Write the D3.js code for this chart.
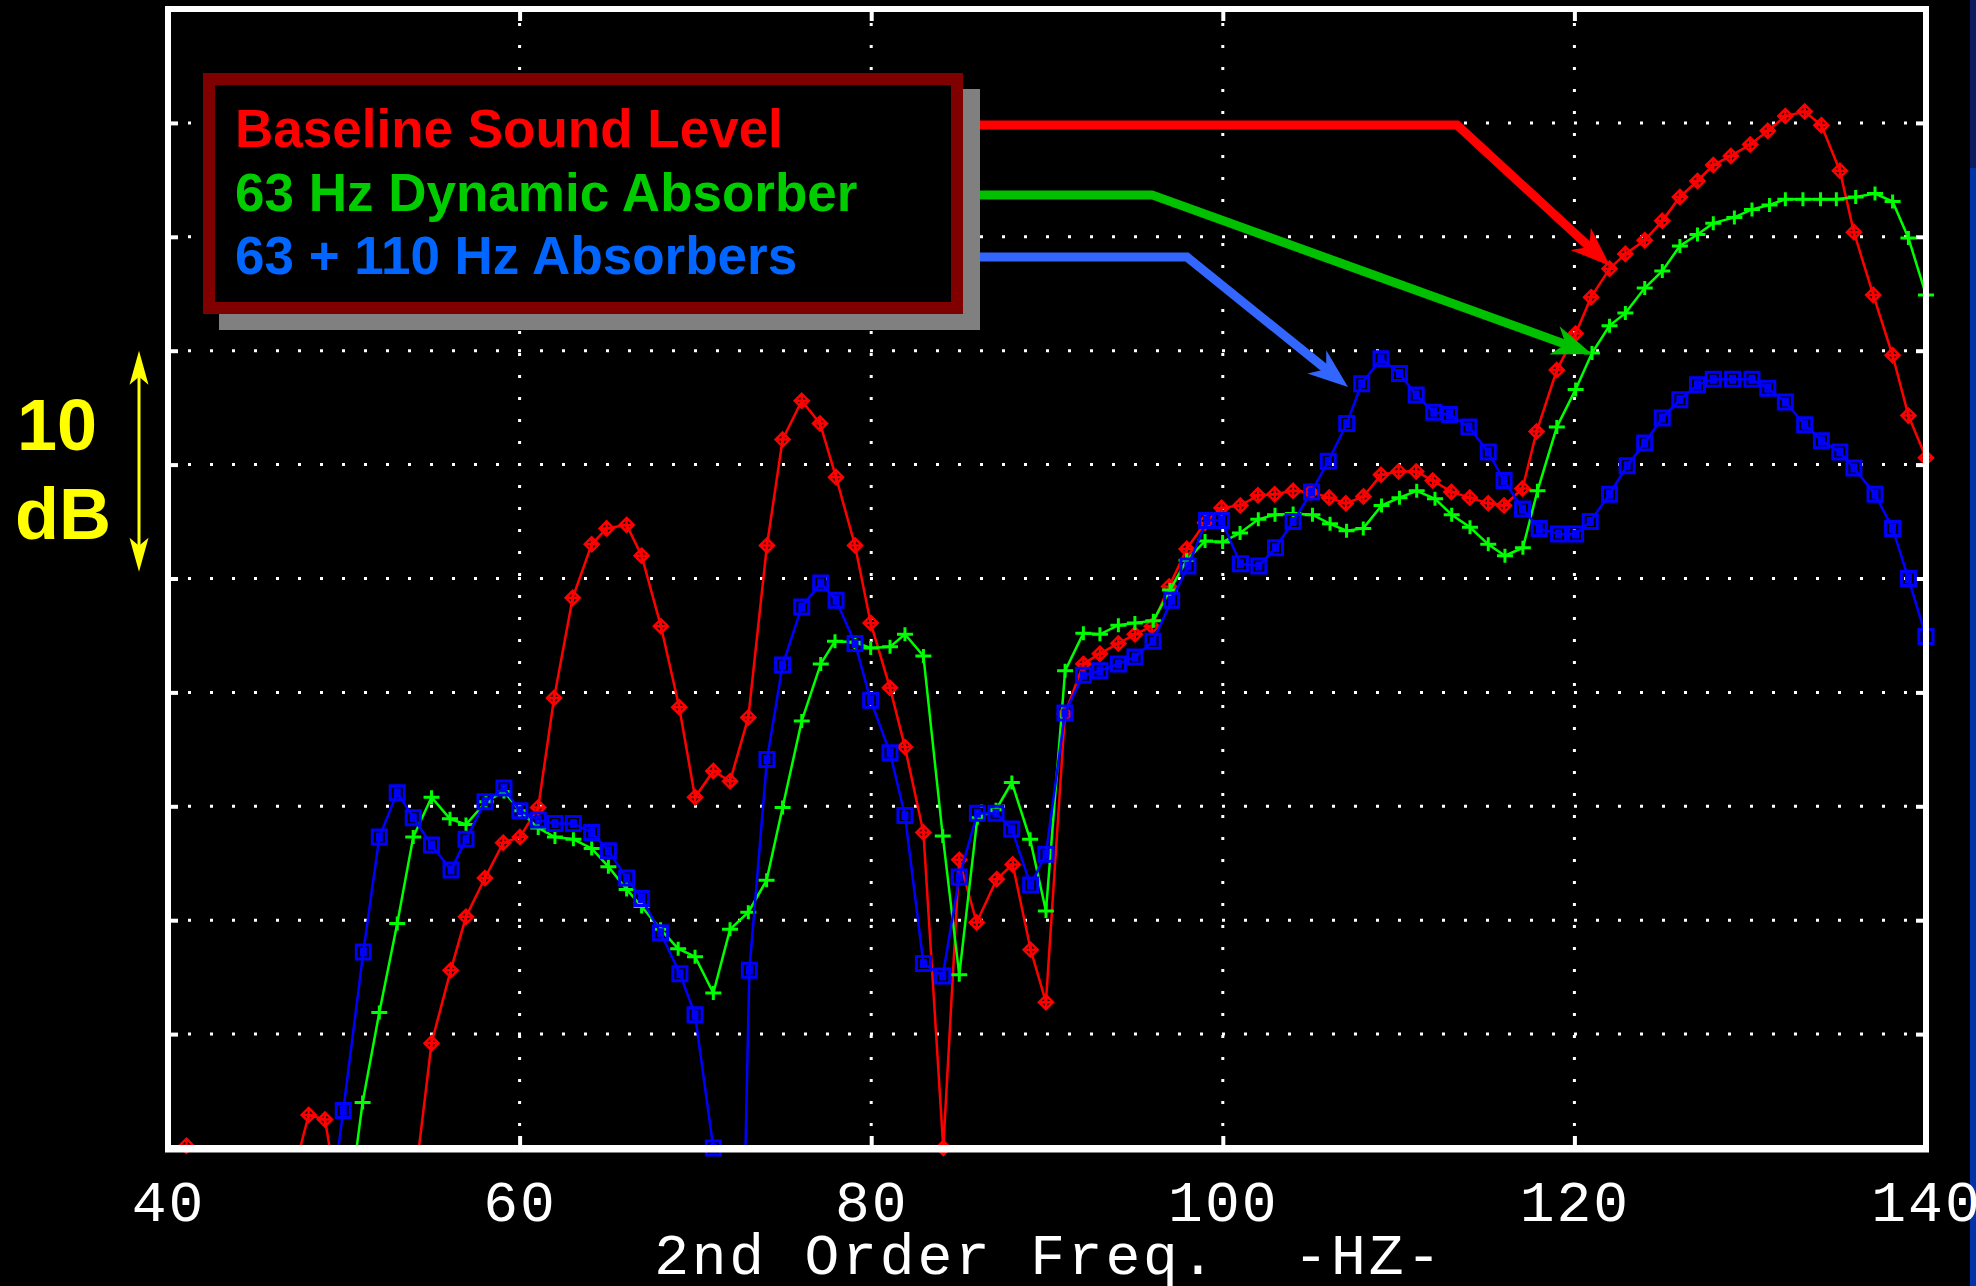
<!DOCTYPE html>
<html>
<head>
<meta charset="utf-8">
<script src="https://cdn.jsdelivr.net/npm/d3@7"></script>
<style>
  html, body { margin: 0; padding: 0; background: #000; }
  svg { display: block; }
</style>
</head>
<body>
<div id="chart"></div>
<script>
// Baseline sound level (red, diamonds). Level in relative dB, 5 dB per grid division.
const baselineHz = [40.2, 41.05, 41.9, 43, 44, 45, 46, 47.1, 48.0, 48.93, 49.9, 51, 52, 53, 54.0, 54.99, 56.08, 56.95, 58.03, 59.07,
  60.02, 61.06, 61.96, 63.02, 64.1, 64.95, 66.09, 66.94, 68.04, 69.08, 69.98, 71.02, 71.97, 73.01, 74.07, 74.96, 76.05, 77.09, 78.0, 79.08,
  79.97, 81.07, 81.92, 82.97, 84.1, 85.01, 86.0, 87.14, 88.05, 89.07, 89.94, 91.02, 92.07, 93.01, 94.06, 95.0, 95.96, 96.95, 97.95, 98.99,
  99.93, 101.0, 102.0, 102.95, 104.0, 105.0, 106.05, 107.0, 108.0, 109.0, 110.0, 111.0, 111.95, 113.0, 114.05, 115.1, 116.0, 117.05, 117.85, 119.0,
  120.07, 120.95, 122.0, 122.9, 124.0, 125.0, 126.0, 127.0, 127.9, 128.9, 130.0, 131.0, 132.0, 133.1, 134.05, 135.1, 135.9, 137.0, 138.1, 139.0, 140.0];
const baselineDb = [-10, 0.1, -10, -15, -15, -15, -12, -1.25, 1.45, 1.25, -3.25, -7.5, -9, -6, -1.75, 4.6, 7.8, 10.15, 11.85, 13.4,
  13.65, 14.95, 19.75, 24.15, 26.5, 27.2, 27.35, 26.0, 22.9, 19.35, 15.4, 16.55, 16.1, 18.9, 26.45, 31.1, 32.8, 31.8, 29.45, 26.45,
  23.05, 20.2, 17.6, 13.85, 0.0, 12.65, 9.9, 11.8, 12.45, 8.7, 6.4, 19.05, 21.25, 21.7, 22.15, 22.55, 22.9, 24.65, 26.3, 27.45,
  28.1, 28.2, 28.65, 28.7, 28.85, 28.8, 28.55, 28.3, 28.6, 29.55, 29.7, 29.7, 29.3, 28.8, 28.55, 28.3, 28.2, 28.95, 31.45, 34.15,
  35.75, 37.35, 38.6, 39.25, 39.85, 40.7, 41.75, 42.45, 43.15, 43.55, 44.05, 44.65, 45.3, 45.5, 44.9, 42.9, 40.2, 37.45, 34.8, 32.15, 30.3];

// 63 Hz dynamic absorber (green, plus marks)
const dyn63Hz = [50.1, 51.07, 52.02, 53.04, 53.95, 54.99, 56.04, 56.95, 58.09, 59.11, 60.02, 61.06, 62.01, 63.06, 64.1, 65.05, 66.09, 66.94, 68.02, 69.02,
  69.98, 71.02, 71.97, 73.01, 74.05, 74.96, 76.05, 77.13, 77.94, 79.08, 79.97, 81.07, 81.92, 82.97, 84.07, 85.01, 86.04, 87.1, 88.0, 89.04,
  89.94, 91.03, 92.07, 93.01, 94.06, 95.0, 96.05, 97.0, 97.94, 98.99, 99.99, 100.98, 102.02, 102.97, 104.0, 105.1, 106.1, 107.04, 107.99, 109.03,
  110.05, 111.03, 112.07, 113.02, 114.06, 115.1, 116.05, 117.07, 117.9, 119.0, 120.07, 121.0, 122.0, 122.9, 124.0, 125.0, 126.0, 127.0, 127.9, 129.1,
  130.1, 131.1, 132.0, 133.0, 134.0, 134.9, 136.0, 137.1, 138.1, 139.0, 140.0];
const dyn63Db = [-3.7, 2.0, 5.95, 9.85, 13.65, 15.4, 14.45, 14.2, 15.2, 15.65, 14.8, 14.05, 13.65, 13.55, 13.15, 12.35, 11.35, 10.6, 9.6, 8.75,
  8.4, 6.8, 9.6, 10.35, 11.75, 14.95, 18.75, 21.25, 22.25, 22.2, 21.95, 22.0, 22.55, 21.6, 13.7, 7.6, 14.5, 14.85, 16.05, 13.55,
  10.4, 20.95, 22.6, 22.55, 22.95, 23.05, 23.15, 24.5, 25.8, 26.65, 26.6, 27.0, 27.6, 27.8, 27.85, 27.8, 27.4, 27.1, 27.2, 28.2,
  28.55, 28.85, 28.5, 27.8, 27.25, 26.5, 26.0, 26.35, 28.85, 31.65, 33.3, 34.9, 36.1, 36.65, 37.75, 38.5, 39.6, 40.1, 40.6, 40.85,
  41.2, 41.4, 41.65, 41.65, 41.65, 41.65, 41.75, 41.9, 41.55, 39.95, 37.45];

// 63 + 110 Hz absorbers (blue, squares)
const abs110Hz = [49.0, 49.97, 51.11, 52.02, 53.04, 53.95, 54.99, 56.1, 56.95, 58.03, 59.11, 60.02, 61.06, 62.01, 63.06, 64.1, 65.05, 66.09, 66.94, 68.02,
  69.12, 69.98, 71.02, 72.0, 73.07, 74.07, 74.96, 76.05, 77.13, 78.0, 79.08, 79.97, 81.07, 81.92, 82.97, 84.07, 85.01, 86.04, 87.1, 87.99,
  89.07, 89.94, 91.02, 92.07, 93.01, 94.06, 95.0, 96.03, 97.09, 98.02, 99.08, 99.93, 101.0, 102.05, 103.0, 104.0, 105.05, 106.0, 107.05, 107.9,
  109.0, 110.05, 111.0, 112.0, 112.9, 114.0, 115.1, 116.0, 117.05, 118.0, 119.1, 120.07, 120.9, 122.0, 123.0, 124.0, 125.0, 126.0, 127.0, 127.9,
  129.0, 130.1, 131.0, 132.0, 133.1, 134.05, 135.1, 135.9, 137.1, 138.1, 139.0, 140.0];
const abs110Db = [-4.05, 1.65, 8.6, 13.65, 15.6, 14.5, 13.3, 12.2, 13.55, 15.2, 15.8, 14.8, 14.4, 14.25, 14.25, 13.85, 13.05, 11.85, 10.95, 9.45,
  7.65, 5.85, 0.0, -30, 7.8, 17.05, 21.2, 23.75, 24.8, 24.05, 22.15, 19.65, 17.35, 14.6, 8.1, 7.55, 11.9, 14.7, 14.7, 14.0,
  11.55, 12.9, 19.1, 20.75, 20.95, 21.25, 21.55, 22.25, 24.05, 25.55, 27.55, 27.55, 25.65, 25.55, 26.35, 27.5, 28.8, 30.15, 31.8, 33.55,
  34.65, 34.0, 33.05, 32.3, 32.2, 31.65, 30.55, 29.3, 28.05, 27.2, 26.95, 26.95, 27.5, 28.7, 29.95, 30.95, 32.05, 32.85, 33.5, 33.75,
  33.75, 33.75, 33.35, 32.75, 31.75, 31.05, 30.55, 29.85, 28.7, 27.2, 25.0, 22.45];

const legendLabels = ["Baseline Sound Level", "63 Hz Dynamic Absorber", "63 + 110 Hz Absorbers"];
const xTicks = [40, 60, 80, 100, 120, 140];
const yGrid = [5, 10, 15, 20, 25, 30, 35, 40, 45];
const xTitle = "2nd Order Freq.  -HZ-";

// legend pointer routes in data units: [Hz, dB] start, elbow, tip
const pointerRoutes = [
  [[86.0, 44.91], [113.32, 44.91], [122.03, 38.72]],
  [[86.0, 41.84], [95.97, 41.84], [121.0, 34.86]],
  [[86.0, 39.11], [97.96, 39.11], [107.12, 33.41]]
];

const width = 1976, height = 1286;

const x = d3.scaleLinear().domain([40, 140]).range([168, 1926]);
const y = d3.scaleLinear().domain([0, 50]).range([1148, 9]);

const svg = d3.select("#chart").append("svg")
  .attr("width", width)
  .attr("height", height);

svg.append("rect").attr("width", width).attr("height", height).attr("fill", "#000");

// slide edge strip on the right
svg.append("rect").attr("x", 1970).attr("y", 0).attr("width", 6).attr("height", 168).attr("fill", "#0c1c5e");
svg.append("rect").attr("x", 1970).attr("y", 168).attr("width", 6).attr("height", height - 168).attr("fill", "#0032a8");

svg.append("defs").append("clipPath").attr("id", "plot-clip")
  .append("rect")
  .attr("x", x(40)).attr("y", y(50))
  .attr("width", x(140) - x(40)).attr("height", y(0) - y(50));

// dotted grid
const grid = svg.append("g")
  .attr("stroke", "#fff")
  .attr("stroke-width", 3)
  .attr("stroke-dasharray", "3 19");

grid.selectAll(".vgrid")
  .data(xTicks.slice(1, -1))
  .join("line")
  .attr("x1", d => x(d)).attr("x2", d => x(d))
  .attr("y1", y(0)).attr("y2", y(50));

grid.selectAll(".hgrid")
  .data(yGrid)
  .join("line")
  .attr("x1", x(40) + 20).attr("x2", x(140))
  .attr("y1", d => y(d)).attr("y2", d => y(d));

// ticks (inside) on all four sides
const styleTicks = g => {
  g.select(".domain").remove();
  g.selectAll(".tick line").attr("stroke", "#fff").attr("stroke-width", 4);
};

const bottomAxis = svg.append("g")
  .attr("transform", `translate(0,${y(0)})`)
  .call(d3.axisBottom(x).tickValues(xTicks).tickSize(-12).tickPadding(32).tickFormat(d3.format("d")))
  .call(styleTicks);

bottomAxis.selectAll(".tick text")
  .attr("fill", "#fff")
  .style("font-family", "'Liberation Mono', 'Courier New', monospace")
  .style("font-size", "58px")
  .style("letter-spacing", "2px");

svg.append("g")
  .attr("transform", `translate(0,${y(50)})`)
  .call(d3.axisTop(x).tickValues(xTicks).tickSize(-12).tickFormat(""))
  .call(styleTicks);

svg.append("g")
  .attr("transform", `translate(${x(40)},0)`)
  .call(d3.axisLeft(y).tickValues(yGrid).tickSize(-10).tickFormat(""))
  .call(styleTicks);

svg.append("g")
  .attr("transform", `translate(${x(140)},0)`)
  .call(d3.axisRight(y).tickValues(yGrid).tickSize(-10).tickFormat(""))
  .call(styleTicks);

svg.append("text")
  .attr("x", (x(40) + x(140)) / 2 + 2)
  .attr("y", 1274)
  .attr("text-anchor", "middle")
  .attr("fill", "#fff")
  .style("font-family", "'Liberation Mono', 'Courier New', monospace")
  .style("font-size", "58px")
  .style("letter-spacing", "2.8px")
  .style("white-space", "pre")
  .text(xTitle);

// data series
const series = [
  { hz: baselineHz, db: baselineDb, color: "#ff0000", marker: "M0,-7L7,0L0,7L-7,0Z M0,-7V7 M-7,0H7", mw: 2.5 },
  { hz: dyn63Hz, db: dyn63Db, color: "#00ff00", marker: "M-8,0H8 M0,-7V7", mw: 3 },
  { hz: abs110Hz, db: abs110Db, color: "#0000ff", marker: "M-7,-7H7V7H-7Z M-2,-3H2V3H-2Z", mw: 3 }
];

const line = d3.line().x(d => x(d[0])).y(d => y(d[1]));

series.forEach(s => {
  const pts = s.hz.map((h, i) => [h, s.db[i]]);
  svg.append("path")
    .datum(pts)
    .attr("clip-path", "url(#plot-clip)")
    .attr("fill", "none")
    .attr("stroke", s.color)
    .attr("stroke-width", 2.5)
    .attr("d", line);

  svg.append("g").selectAll("path")
    .data(pts.filter(d => d[1] >= 0))
    .join("path")
    .attr("transform", d => `translate(${x(d[0])},${y(d[1])})`)
    .attr("d", s.marker)
    .attr("fill", "none")
    .attr("stroke", s.color)
    .attr("stroke-width", s.mw);
});

// plot frame
svg.append("rect")
  .attr("x", x(40)).attr("y", y(50))
  .attr("width", x(140) - x(40)).attr("height", y(0) - y(50))
  .attr("fill", "none")
  .attr("stroke", "#fff")
  .attr("stroke-width", 6);

svg.append("line")
  .attr("x1", x(40) - 3).attr("x2", x(140) + 3)
  .attr("y1", y(0) + 1).attr("y2", y(0) + 1)
  .attr("stroke", "#fff")
  .attr("stroke-width", 7);

// legend pointer arrows
const pointerColors = ["#ff0000", "#00c000", "#3366ff"];

function arrowHead(tip, from, len, half, notch) {
  const dx = tip[0] - from[0], dy = tip[1] - from[1];
  const n = Math.hypot(dx, dy);
  const ux = dx / n, uy = dy / n, px = -uy, py = ux;
  const bx = tip[0] - len * ux, by = tip[1] - len * uy;
  return [
    tip,
    [bx + half * px, by + half * py],
    [tip[0] - (len - notch) * ux, tip[1] - (len - notch) * uy],
    [bx - half * px, by - half * py]
  ];
}

pointerRoutes.forEach((route, i) => {
  const p = route.map(d => [x(d[0]), y(d[1])]);
  const head = arrowHead(p[2], p[1], 40, 15, 12);
  const shaft = [p[0], p[1], head[2]];
  svg.append("path")
    .attr("d", d3.line()(shaft))
    .attr("fill", "none")
    .attr("stroke", pointerColors[i])
    .attr("stroke-width", 9)
    .attr("stroke-linejoin", "miter");
  svg.append("path")
    .attr("d", d3.line()(head) + "Z")
    .attr("fill", pointerColors[i]);
});

// legend box with shadow
svg.append("rect")
  .attr("x", 219).attr("y", 89).attr("width", 761).attr("height", 241)
  .attr("fill", "#808080");

svg.append("rect")
  .attr("x", 209).attr("y", 79).attr("width", 748).attr("height", 229)
  .attr("fill", "#000")
  .attr("stroke", "#800000")
  .attr("stroke-width", 12);

const legendColors = ["#ff0000", "#00cc00", "#0066ff"];
const legendBaselines = [147, 210.5, 274];

svg.selectAll(".legend-text")
  .data(legendLabels)
  .join("text")
  .attr("x", 235)
  .attr("y", (d, i) => legendBaselines[i])
  .attr("fill", (d, i) => legendColors[i])
  .style("font-family", "'Liberation Sans', Arial, sans-serif")
  .style("font-weight", "bold")
  .style("font-size", "53px")
  .text(d => d);

// 10 dB scale bar
const barX = 139;
const barTop = y(35.0), barBottom = y(25.3);
svg.append("line")
  .attr("x1", barX).attr("x2", barX)
  .attr("y1", barTop + 20).attr("y2", barBottom - 20)
  .attr("stroke", "#ffff00")
  .attr("stroke-width", 3);

[[barTop, 1], [barBottom, -1]].forEach(([ty, dir]) => {
  const pts = [[barX, ty], [barX + 9.5, ty + dir * 34], [barX, ty + dir * 26], [barX - 9.5, ty + dir * 34]];
  svg.append("path").attr("d", d3.line()(pts) + "Z").attr("fill", "#ffff00");
});

svg.append("text")
  .attr("x", 57).attr("y", 450)
  .attr("text-anchor", "middle")
  .attr("fill", "#ffff00")
  .style("font-family", "'Liberation Sans', Arial, sans-serif")
  .style("font-weight", "bold")
  .style("font-size", "72px")
  .text("10");

svg.append("text")
  .attr("x", 63).attr("y", 539)
  .attr("text-anchor", "middle")
  .attr("fill", "#ffff00")
  .style("font-family", "'Liberation Sans', Arial, sans-serif")
  .style("font-weight", "bold")
  .style("font-size", "72px")
  .text("dB");
</script>
</body>
</html>
